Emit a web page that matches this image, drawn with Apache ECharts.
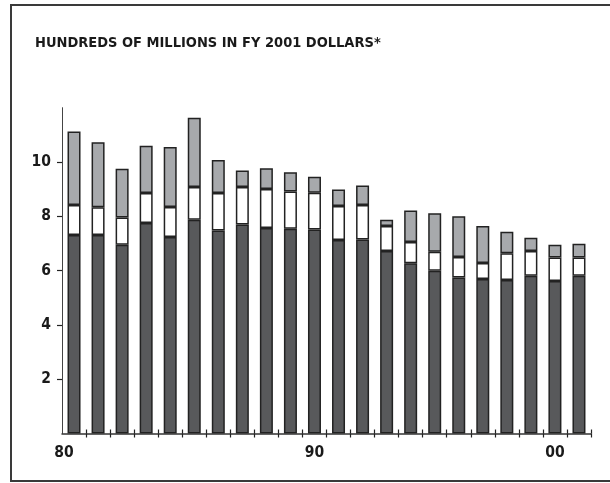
<!DOCTYPE html>
<html>
<head>
<meta charset="utf-8">
<script src="https://cdn.jsdelivr.net/npm/echarts@6/dist/echarts.min.js"></script>
<style>
html,body{margin:0;padding:0;background:#fff;}
#chart{width:610px;height:483px;}
</style>
</head>
<body>
<div id="chart"></div>
<script>
const years = ['1980','1981','1982','1983','1984','1985','1986','1987','1988','1989','1990','1991','1992','1993','1994','1995','1996','1997','1998','1999','2000','2001'];
const yearLabels = {'1980':'80','1990':'90','2000':'00'};
const darkSeg  = [7.31,7.31,6.95,7.75,7.24,7.87,7.48,7.70,7.57,7.54,7.51,7.13,7.15,6.72,6.27,5.99,5.75,5.69,5.65,5.81,5.62,5.81];
const whiteSeg = [1.11,1.02,1.01,1.11,1.10,1.21,1.38,1.38,1.44,1.37,1.36,1.25,1.27,0.92,0.78,0.70,0.75,0.59,0.99,0.91,0.86,0.67];
const graySeg  = [2.70,2.40,1.79,1.74,2.21,2.55,1.21,0.61,0.76,0.71,0.59,0.61,0.71,0.23,1.16,1.42,1.50,1.36,0.79,0.49,0.47,0.51];
const yTicks = [2,4,6,8,10];
const titleText = 'HUNDREDS OF MILLIONS IN FY 2001 DOLLARS*';

const FONT = '"Liberation Sans Narrow","DejaVu Sans Condensed","Liberation Sans",sans-serif';
const chart = echarts.init(document.getElementById('chart'), null, {renderer:'canvas'});

function barSeries(name, data, color){
  return {
    name, type:'bar', stack:'total', data, barWidth:13,
    itemStyle:{color, borderColor:'#222', borderWidth:1.5},
    emphasis:{disabled:true}, animation:false
  };
}
const tickFilter = function(i){ return i > 0 && i < years.length; };

chart.setOption({
  animation:false,
  title:{
    text:titleText, left:30, top:31,
    textStyle:{fontFamily:FONT, fontWeight:'bold', fontSize:14.5, color:'#1a1a1a'}
  },
  graphic:[{
    type:'polyline', silent:true,
    shape:{points:[[615,5],[11,5],[11,481],[615,481]]},
    style:{stroke:'#3a3a3a', lineWidth:2, fill:null}
  }],
  grid:{left:62, right:19, top:107.7, bottom:49.5, containLabel:false},
  xAxis:[{
    type:'category', data:years, boundaryGap:true,
    axisLine:{lineStyle:{color:'#333', width:1.5}},
    axisTick:{show:true, length:4, inside:false, interval:tickFilter, lineStyle:{color:'#222', width:1.2}},
    axisLabel:{
      interval:0, margin:11,
      fontFamily:FONT, fontWeight:'bold', fontSize:15.5, color:'#1a1a1a',
      formatter:function(v){
        const l = yearLabels[v];
        if(!l) return '';
        if(v==='1980') return '{a|'+l+'}';
        return l;
      },
      rich:{a:{fontFamily:FONT, fontWeight:'bold', fontSize:15.5, color:'#1a1a1a', padding:[0,20,0,0]}}
    },
    splitLine:{show:false}
  },{
    type:'category', data:years, boundaryGap:true, position:'bottom',
    axisLine:{show:false},
    axisTick:{show:true, length:4, inside:true, interval:tickFilter, lineStyle:{color:'#222', width:1.2}},
    axisLabel:{show:false},
    splitLine:{show:false}
  }],
  yAxis:{
    type:'value', min:0, max:12, interval:2,
    axisLine:{show:true, lineStyle:{color:'#444', width:1}},
    axisTick:{show:true, length:5, customValues:yTicks, lineStyle:{color:'#222', width:1.2}},
    axisLabel:{
      customValues:yTicks, margin:11,
      fontFamily:FONT, fontWeight:'bold', fontSize:15.5, color:'#1a1a1a'
    },
    splitLine:{show:false}
  },
  series:[
    barSeries('base', darkSeg, '#58595b'),
    barSeries('mid', whiteSeg, '#ffffff'),
    barSeries('top', graySeg, '#a7a9ac')
  ]
});
</script>
</body>
</html>
